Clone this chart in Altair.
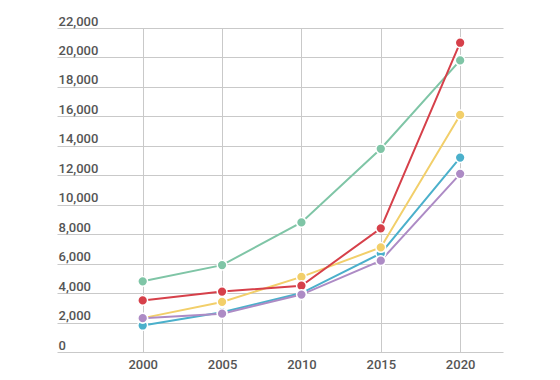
import altair as alt
import pandas as pd

years = [2000, 2005, 2010, 2015, 2020]
series_names = ["Green", "Blue", "Yellow", "Red", "Purple"]
green = [4800, 5900, 8800, 13800, 19800]
blue = [1800, 2700, 4000, 6700, 13200]
yellow = [2300, 3400, 5100, 7100, 16100]
red = [3500, 4100, 4500, 8400, 21000]
purple = [2300, 2600, 3900, 6200, 12100]
colors = ["#7fc5a6", "#4bb0cb", "#f2cf6a", "#d6404a", "#ad8bc5"]
y_ticks = list(range(0, 22001, 2000))

rows = []
for name, vals in zip(series_names, [green, blue, yellow, red, purple]):
    for i, (yr, v) in enumerate(zip(years, vals)):
        rows.append({"series": name, "year": yr, "value": v,
                     "order": series_names.index(name)})
df = pd.DataFrame(rows)

font = "Roboto"
xscale = alt.Scale(domain=[1994.6, 2022.7], nice=False, zero=False)
yscale = alt.Scale(domain=[0, 22000], nice=False)
cscale = alt.Scale(domain=series_names, range=colors)

xaxis = alt.Axis(values=years, format="d", title=None, grid=True, domain=False,
                 ticks=False, tickSize=0, labelPadding=6, labelFont=font,
                 labelFontSize=13, labelFontWeight=500, labelColor="#555",
                 labelOverlap=False,
                 gridColor="#c9c9c9", gridWidth=1)
yaxis = alt.Axis(values=y_ticks, format=",d", title=None, grid=True, domain=False,
                 ticks=False, tickSize=0, labelPadding=-1, labelAlign="left",
                 labelBaseline="alphabetic", labelOffset=-3, labelFlush=False,
                 labelOverlap=False,
                 labelFont=font, labelFontSize=13, labelFontWeight=500,
                 labelColor="#555", gridColor="#c9c9c9", gridWidth=1)

base = alt.Chart(df)
lines = base.mark_line(strokeWidth=2).encode(
    x=alt.X("year:Q", scale=xscale, axis=xaxis),
    y=alt.Y("value:Q", scale=yscale, axis=yaxis),
    color=alt.Color("series:N", scale=cscale, legend=None),
    detail="series:N",
)
points = base.mark_point(filled=True, size=95, opacity=1, stroke="white",
                         strokeWidth=1.5).encode(
    x=alt.X("year:Q", scale=xscale, axis=xaxis),
    y=alt.Y("value:Q", scale=yscale, axis=yaxis),
    fill=alt.Fill("series:N", scale=cscale, legend=None),
    order=alt.Order("order:Q"),
)

chart = alt.layer(lines, points).resolve_axis(x="shared", y="shared").properties(
    width=446, height=324,
    autosize=alt.AutoSizeParams(type="none"),
    padding={"left": 49, "top": 20, "right": 49, "bottom": 20},
).configure_view(stroke=None)

chart.save("out.html", embed_options={"renderer": "svg", "actions": False})
